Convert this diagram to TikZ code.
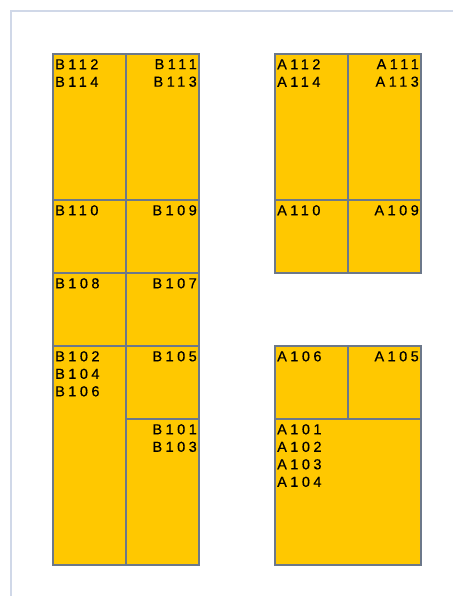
\documentclass[tikz,border=0pt]{standalone}
\usepackage{fontspec}
\setmainfont{Liberation Sans}[LetterSpace=24,FakeBold=0.5]
\usetikzlibrary{positioning}
\definecolor{roomfill}{RGB}{255,200,0}
\definecolor{roomline}{RGB}{108,120,138}
\definecolor{pageline}{RGB}{208,216,232}

\begin{document}
\begin{tikzpicture}[
x=1pt, y=-1pt,
    room/.style={
        rectangle,
        draw=roomline,
        line width=1.2pt,
        fill=roomfill,
        anchor=north west,
        inner sep=0pt,
        outer sep=0pt
    },
    tagl/.style={
        anchor=north west,
        align=left,
        inner sep=0pt,
        font=\fontsize{14.5}{17.5}\selectfont,
        xshift=2pt, yshift=-5pt
    },
    tagr/.style={
        anchor=north east,
        align=right,
        inner sep=0pt,
        font=\fontsize{14.5}{17.5}\selectfont,
        xshift=-2pt, yshift=-5pt
    }
]
\useasboundingbox (0,0) rectangle (453,596);
\draw[pageline, line width=1.5pt] (11,596) -- (11,11) -- (453,11);

% Wing B
\node[room, minimum width=73pt, minimum height=146pt] (b112) at (53,54)  {};
\node[room, minimum width=73pt, minimum height=146pt] (b111) at (126,54) {};
\node[room, minimum width=73pt, minimum height=73pt]  (b110) at (53,200)  {};
\node[room, minimum width=73pt, minimum height=73pt]  (b109) at (126,200) {};
\node[room, minimum width=73pt, minimum height=73pt]  (b108) at (53,273)  {};
\node[room, minimum width=73pt, minimum height=73pt]  (b107) at (126,273) {};
\node[room, minimum width=73pt, minimum height=219pt] (b102) at (53,346)  {};
\node[room, minimum width=73pt, minimum height=73pt]  (b105) at (126,346) {};
\node[room, minimum width=73pt, minimum height=146pt] (b101) at (126,419) {};

\node[tagl] (tb112) at (b112.north west) {B112\\B114};
\node[tagr] (tb111) at (b111.north east) {B111\\B113};
\node[tagl] (tb110) at (b110.north west) {B110};
\node[tagr] (tb109) at (b109.north east) {B109};
\node[tagl] (tb108) at (b108.north west) {B108};
\node[tagr] (tb107) at (b107.north east) {B107};
\node[tagl] (tb102) at (b102.north west) {B102\\B104\\B106};
\node[tagr] (tb105) at (b105.north east) {B105};
\node[tagr] (tb101) at (b101.north east) {B101\\B103};

% Wing A
\node[room, minimum width=73pt, minimum height=146pt] (a112) at (275,54)  {};
\node[room, minimum width=73pt, minimum height=146pt] (a111) at (348,54)  {};
\node[room, minimum width=73pt, minimum height=73pt]  (a110) at (275,200) {};
\node[room, minimum width=73pt, minimum height=73pt]  (a109) at (348,200) {};
\node[room, minimum width=73pt, minimum height=73pt]  (a106) at (275,346) {};
\node[room, minimum width=73pt, minimum height=73pt]  (a105) at (348,346) {};
\node[room, minimum width=146pt, minimum height=146pt] (a101) at (275,419) {};

\node[tagl] (ta112) at (a112.north west) {A112\\A114};
\node[tagr] (ta111) at (a111.north east) {A111\\A113};
\node[tagl] (ta110) at (a110.north west) {A110};
\node[tagr] (ta109) at (a109.north east) {A109};
\node[tagl] (ta106) at (a106.north west) {A106};
\node[tagr] (ta105) at (a105.north east) {A105};
\node[tagl] (ta101) at (a101.north west) {A101\\A102\\A103\\A104};
\end{tikzpicture}
\end{document}
